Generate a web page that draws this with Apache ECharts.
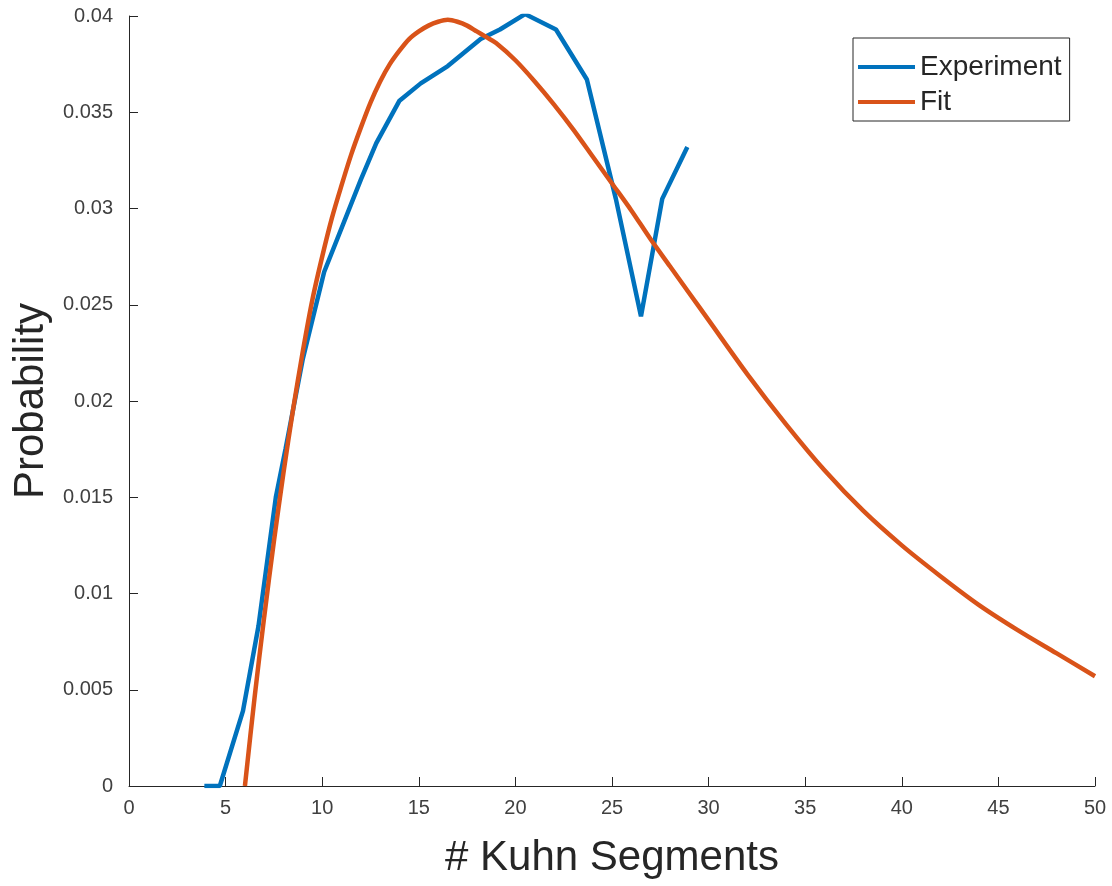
<!DOCTYPE html>
<html>
<head>
<meta charset="utf-8">
<script src="https://cdn.jsdelivr.net/npm/echarts@6/dist/echarts.min.js"></script>
<style>html,body{margin:0;padding:0;background:#fff}#c{width:1112px;height:886px}</style>
</head>
<body>
<div id="c"></div>
<script>
var xTicks = [0, 5, 10, 15, 20, 25, 30, 35, 40, 45, 50];
var yTicks = [0, 0.005, 0.01, 0.015, 0.02, 0.025, 0.03, 0.035, 0.04];

var experimentX = [3.9, 4.7, 5.9, 6.7, 7.6, 8.1, 9.0, 10.1, 12.0, 12.8, 14.0, 15.1, 16.5, 18.2, 19.2, 20.5, 22.1, 23.7, 25.2, 26.5, 27.6, 28.9];
var experimentY = [0, 0, 0.0039, 0.0083, 0.0150, 0.0175, 0.0222, 0.0267, 0.0315, 0.0334, 0.0356, 0.0365, 0.0374, 0.0388, 0.0393, 0.0401, 0.0393, 0.0367, 0.0305, 0.0244, 0.0305, 0.0332];

var fitX = [6.0, 6.5, 7.0, 7.5, 8.0, 8.5, 9.0, 9.5, 10.0, 10.5, 11.0, 11.5, 12.0, 12.5, 13.0, 13.5, 14.0, 14.5, 15.0, 15.5, 16.0, 16.5, 17.0, 17.5, 18.0, 18.5, 19.0, 20.0, 21.0, 22.0, 23.0, 24.0, 25.0, 26.0, 27.0, 28.0, 29.0, 30.0, 32.0, 34.0, 36.0, 38.0, 40.0, 42.0, 44.0, 46.0, 48.0, 50.0];
var fitY = [0, 0.0046, 0.0088, 0.0127, 0.0163, 0.0196, 0.0226, 0.0253, 0.0275, 0.0295, 0.0312, 0.0328, 0.0342, 0.0355, 0.0366, 0.0375, 0.0382, 0.0388, 0.0392, 0.0395, 0.0397, 0.0398, 0.0397, 0.0395, 0.0392, 0.0389, 0.0386, 0.0377, 0.0366, 0.0354, 0.0341, 0.0327, 0.0313, 0.0299, 0.0284, 0.0270, 0.0256, 0.0242, 0.0214, 0.0188, 0.0164, 0.0143, 0.0125, 0.0109, 0.0094, 0.0081, 0.0069, 0.0057];

function zip(a, b) { return a.map(function (v, i) { return [v, b[i]]; }); }

var axisColor = '#262626';
var font = 'Liberation Sans, Arial, Helvetica, sans-serif';
var chart = echarts.init(document.getElementById('c'));
chart.setOption({
  animation: false,
  backgroundColor: '#fff',
  grid: { left: 129, right: 17, top: 16, bottom: 100 },
  legend: {
    left: 853, top: 38,
    orient: 'vertical',
    backgroundColor: '#fff',
    borderColor: axisColor, borderWidth: 1,
    padding: [15, 8, 5, 5],
    itemWidth: 57, itemHeight: 4, itemGap: 7,
    textStyle: { fontFamily: font, fontSize: 28, color: axisColor },
    data: [{ name: 'Experiment', icon: 'rect' }, { name: 'Fit', icon: 'rect' }]
  },
  xAxis: {
    type: 'value', min: xTicks[0], max: xTicks[xTicks.length - 1], interval: 5,
    name: '# Kuhn Segments', nameLocation: 'middle', nameGap: 51,
    nameTextStyle: { fontFamily: font, fontSize: 42, color: axisColor },
    axisLine: { lineStyle: { color: axisColor, width: 1 } },
    axisTick: { inside: true, length: 9, lineStyle: { color: axisColor } },
    axisLabel: { fontFamily: font, fontSize: 20, color: '#404040', margin: 12 },
    splitLine: { show: false }
  },
  yAxis: {
    type: 'value', min: yTicks[0], max: yTicks[yTicks.length - 1], interval: 0.005,
    name: 'Probability', nameLocation: 'middle', nameGap: 77, nameRotate: 90,
    nameTextStyle: { fontFamily: font, fontSize: 42, color: axisColor },
    axisLine: { show: true, lineStyle: { color: axisColor, width: 1 } },
    axisTick: { show: true, inside: true, length: 9, lineStyle: { color: axisColor } },
    axisLabel: { fontFamily: font, fontSize: 20, color: '#404040', margin: 16,
      formatter: function (v) { return String(+v.toFixed(3)); } },
    splitLine: { show: false }
  },
  series: [
    { name: 'Experiment', type: 'line', data: zip(experimentX, experimentY), symbol: 'none',
      lineStyle: { color: '#0072BD', width: 4.5 }, itemStyle: { color: '#0072BD' }, z: 2 },
    { name: 'Fit', type: 'line', data: zip(fitX, fitY), symbol: 'none', smooth: 0.3,
      lineStyle: { color: '#D95319', width: 4.5 }, itemStyle: { color: '#D95319' }, z: 3 }
  ]
});
</script>
</body>
</html>
